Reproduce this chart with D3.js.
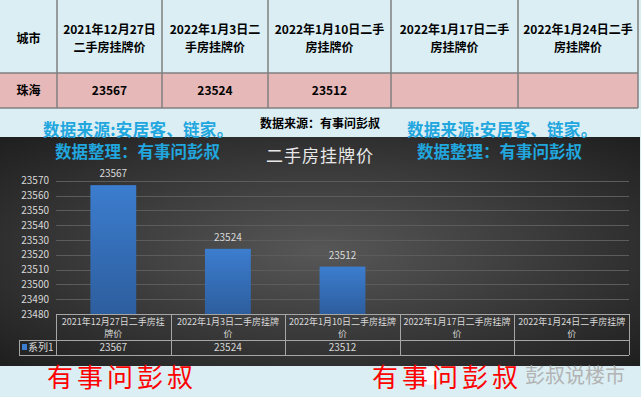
<!DOCTYPE html>
<html>
<head>
<meta charset="utf-8">
<script src="https://cdn.jsdelivr.net/npm/d3@7"></script>
<style>
  body { margin: 0; background: #daeef3; }
  svg { display: block; }
  text { font-family: "Noto Sans CJK SC", "Noto Sans", sans-serif; }
</style>
</head>
<body>
<div id="chart"></div>
<script>
// values
const cityName = "珠海";
const tableHead = ["2021年12月27日\n二手房挂牌价", "2022年1月3日二\n手房挂牌价", "2022年1月10日二手\n房挂牌价", "2022年1月17日二手\n房挂牌价", "2022年1月24日二手\n房挂牌价"];
const categories = ["2021年12月27日二手房挂\n牌价", "2022年1月3日二手房挂牌\n价", "2022年1月10日二手房挂牌\n价", "2022年1月17日二手房挂牌\n价", "2022年1月24日二手房挂牌\n价"];
const values = [23567, 23524, 23512, null, null];
const seriesName = "系列1";
const yTicks = [23480, 23490, 23500, 23510, 23520, 23530, 23540, 23550, 23560, 23570];

const W = 641, H = 397;
const svg = d3.select('#chart').append('svg').attr('width', W).attr('height', H);
const defs = svg.append('defs');

// ---- top table ----
let colEdges = [0, 57, 162, 268, 391, 518, 638];
let row1 = [0, 73], row2 = [73, 108];

svg.append('rect').attr('x', 0).attr('y', 0).attr('width', W).attr('height', row1[1]).attr('fill', '#daeef3');
svg.append('rect').attr('x', 0).attr('y', row2[0]).attr('width', 638).attr('height', row2[1] - row2[0]).attr('fill', '#e6b8b7');

let tbl = svg.append('g');
colEdges.slice(1).forEach(x => {
	tbl.append('line').attr('x1', x).attr('x2', x).attr('y1', 0).attr('y2', row2[1])
		.attr('stroke', '#7f7f7f').attr('stroke-width', 1.5);
});
[row2[0], row2[1]].forEach(y => {
	tbl.append('line').attr('x1', 0).attr('x2', 638).attr('y1', y).attr('y2', y)
		.attr('stroke', '#7f7f7f').attr('stroke-width', 1.5);
});

function cellText(g, x, y, lines, opts) {
	let t = g.append('text').attr('text-anchor', 'middle')
		.attr('font-size', opts.size).attr('font-weight', opts.weight || 'normal')
		.attr('fill', opts.fill || '#000');
	let off = -(lines.length - 1) / 2 * opts.lh;
	lines.forEach((l, i) => {
		t.append('tspan').attr('x', x).attr('y', y + off + i * opts.lh).attr('dy', '0.35em').text(l);
	});
}

let headCells = [["城市"]].concat(tableHead.map(d => d.split('\n')));
headCells.forEach((lines, i) => {
	cellText(tbl, (colEdges[i] + colEdges[i + 1]) / 2, 39, lines, { size: 12, weight: 'bold', lh: 17.5 });
});
let rowCells = [cityName].concat(values.map(v => v == null ? '' : String(v)));
rowCells.forEach((s, i) => {
	cellText(tbl, (colEdges[i] + colEdges[i + 1]) / 2, 91, [s], { size: 12, weight: 'bold', lh: 14 });
});

// ---- chart panel ----
let bg = defs.append('radialGradient').attr('id', 'panelBg')
	.attr('cx', '50%').attr('cy', '50%').attr('r', '70%');
bg.append('stop').attr('offset', '0%').attr('stop-color', '#575757');
bg.append('stop').attr('offset', '100%').attr('stop-color', '#1f1f1f');

let barGrad = defs.append('linearGradient').attr('id', 'barFill')
	.attr('x1', 0).attr('y1', 0).attr('x2', 0).attr('y2', 1);
barGrad.append('stop').attr('offset', '0%').attr('stop-color', '#3c7dcf');
barGrad.append('stop').attr('offset', '100%').attr('stop-color', '#2d5e9e');

svg.append('rect').attr('x', 0).attr('y', 137).attr('width', 640).attr('height', 229)
	.attr('fill', 'url(#panelBg)');

let plot = { left: 56, right: 629, top: 180.7, bottom: 314 };

let x = d3.scaleBand().domain(d3.range(categories.length))
	.range([plot.left, plot.right]).paddingInner(0.6).paddingOuter(0.3);
let xCell = d3.scaleBand().domain(d3.range(categories.length)).range([plot.left, plot.right]);
let y = d3.scaleLinear().domain([23480, 23570]).range([plot.bottom, plot.top]);

// gridlines
svg.append('g').selectAll('line').data(yTicks.slice(1)).enter().append('line')
	.attr('x1', plot.left).attr('x2', plot.right)
	.attr('y1', d => Math.round(y(d)) + 0.5).attr('y2', d => Math.round(y(d)) + 0.5)
	.attr('stroke', '#5c5c5c').attr('stroke-width', 1);

// y axis labels
let yAxis = d3.axisLeft(y).tickValues(yTicks).tickSize(0).tickPadding(0).tickFormat(d3.format('d'));
let ya = svg.append('g').attr('transform', 'translate(49,0)').call(yAxis);
ya.select('.domain').remove();
ya.selectAll('text').attr('fill', '#d9d9d9').attr('font-size', 10)
	.attr('font-family', '"Noto Sans CJK SC", sans-serif');

// bars
let barData = values.map((v, i) => ({ v: v, i: i })).filter(d => d.v != null);
svg.append('g').selectAll('rect').data(barData).enter().append('rect')
	.attr('x', d => x(d.i)).attr('width', x.bandwidth())
	.attr('y', d => y(d.v)).attr('height', d => y(23480) - y(d.v))
	.attr('fill', 'url(#barFill)');

svg.append('g').selectAll('text').data(barData).enter().append('text')
	.attr('x', d => x(d.i) + x.bandwidth() / 2).attr('y', d => y(d.v) - 8)
	.attr('text-anchor', 'middle').attr('font-size', 10).attr('fill', '#d9d9d9')
	.text(d => d.v);

// title
svg.append('text').attr('x', 320).attr('y', 162).attr('text-anchor', 'middle')
	.attr('font-size', 17).attr('fill', '#e8e8e8').attr('letter-spacing', 1)
	.text("二手房挂牌价");

// data table under the axis
let dt = svg.append('g');
let dtTop = plot.bottom, dtMid = 340, dtBot = 355, legLeft = 19;
let gridCol = '#a6a6a6';
dt.append('line').attr('x1', plot.left).attr('x2', plot.right).attr('y1', dtTop + 0.5).attr('y2', dtTop + 0.5).attr('stroke', gridCol);
dt.append('line').attr('x1', legLeft).attr('x2', plot.right).attr('y1', dtMid + 0.5).attr('y2', dtMid + 0.5).attr('stroke', gridCol);
dt.append('line').attr('x1', legLeft).attr('x2', plot.right).attr('y1', dtBot + 0.5).attr('y2', dtBot + 0.5).attr('stroke', gridCol);
dt.append('line').attr('x1', legLeft + 0.5).attr('x2', legLeft + 0.5).attr('y1', dtMid).attr('y2', dtBot).attr('stroke', gridCol);
d3.range(categories.length + 1).forEach(i => {
	let xx = Math.round(plot.left + i * xCell.bandwidth()) + 0.5;
	dt.append('line').attr('x1', xx).attr('x2', xx).attr('y1', dtTop).attr('y2', dtBot).attr('stroke', gridCol);
});
categories.forEach((c, i) => {
	cellText(dt, xCell(i) + xCell.bandwidth() / 2, 327.5, c.split('\n'), { size: 9, lh: 12, fill: '#d9d9d9' });
	if (values[i] != null)
		cellText(dt, xCell(i) + xCell.bandwidth() / 2, 347.5, [String(values[i])], { size: 10, lh: 12, fill: '#d9d9d9' });
});
dt.append('rect').attr('x', 22).attr('y', 344).attr('width', 5).attr('height', 6).attr('fill', '#3c7dcf');
dt.append('text').attr('x', 28).attr('y', 347.5).attr('dy', '0.35em').attr('font-size', 10)
	.attr('fill', '#d9d9d9').text(seriesName);

// ---- overlay notes ----
let blue = '#21a6de';
[[43, 130.5], [407, 130.5]].forEach(p => {
	svg.append('text').attr('x', p[0]).attr('y', p[1]).attr('dy', '0.35em')
		.attr('font-size', 16.5).attr('font-weight', 'bold').attr('fill', blue)
		.attr('letter-spacing', 0.3)
		.text("数据来源:安居客、链家。");
});
[[55, 152.5], [417, 152.5]].forEach(p => {
	svg.append('text').attr('x', p[0]).attr('y', p[1]).attr('dy', '0.35em')
		.attr('font-size', 16.5).attr('font-weight', 'bold').attr('fill', blue)
		.text("数据整理：有事问彭叔");
});
svg.append('text').attr('x', 320).attr('y', 124).attr('dy', '0.35em').attr('text-anchor', 'middle')
	.attr('font-size', 12).attr('font-weight', 'bold').attr('fill', '#000')
	.text("数据来源：有事问彭叔");

// watermark
svg.append('circle').attr('cx', 430).attr('cy', 376).attr('r', 9).attr('fill', '#ffffff').attr('opacity', 0.85);
svg.append('text').attr('x', 525).attr('y', 376).attr('dy', '0.35em').attr('font-size', 20)
	.attr('fill', '#b3b3b3').text("彭叔说楼市");

[[47, 378], [372, 378]].forEach(p => {
	svg.append('text').attr('x', p[0]).attr('y', p[1]).attr('dy', '0.35em')
		.attr('font-size', 26).attr('fill', '#ff0000').attr('letter-spacing', 4)
		.text("有事问彭叔");
});
</script>
</body>
</html>
